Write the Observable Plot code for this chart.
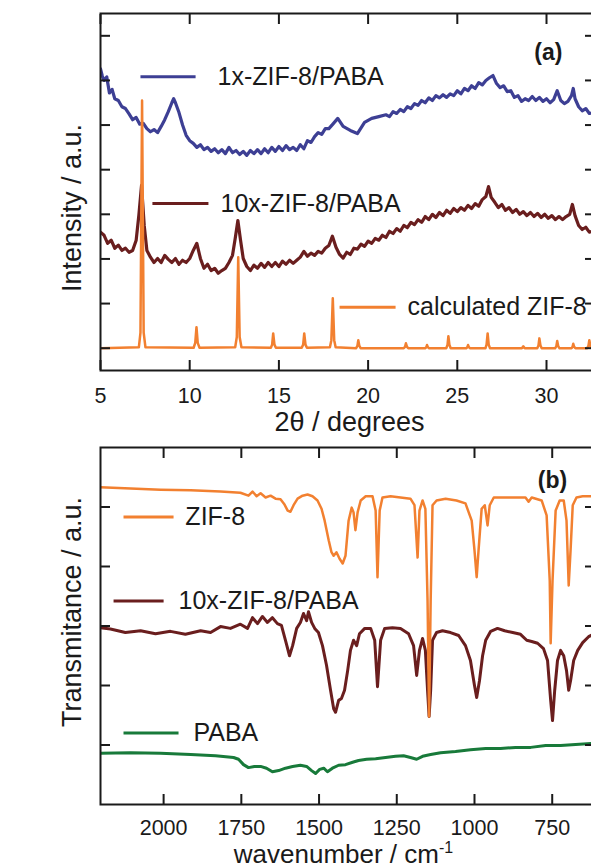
<!DOCTYPE html>
<html>
<head>
<meta charset="utf-8">
<script src="https://cdn.jsdelivr.net/npm/d3@7"></script>
<script src="https://cdn.jsdelivr.net/npm/@observablehq/plot@0.6"></script>
<style>
html, body { margin: 0; padding: 0; overflow: hidden; background: #fff; width: 591px; height: 868px; }
#chart { width: 591px; height: 868px; overflow: hidden; position: relative; }
#chart svg { display: block; max-width: none !important; }
</style>
</head>
<body>
<div id="chart"></div>
<script>
// ---------------- DATA ----------------
// Panel (a): XRD, [2θ (degrees), intensity (a.u., offset)]
const xrd1x = [
  [5.0,6.26],[5.1,6.10],[5.2,6.00],[5.35,6.08],[5.5,5.72],[5.65,5.80],[5.8,5.59],[6.0,5.55],[6.2,5.41],[6.4,5.37],
  [6.6,5.25],[6.8,5.12],[7.0,5.17],[7.2,5.02],[7.4,5.04],[7.6,4.92],[7.8,4.85],[8.0,4.90],[8.2,4.83],[8.4,4.97],
  [8.6,5.12],[8.8,5.30],[9.0,5.50],[9.1,5.59],[9.2,5.50],[9.4,5.28],[9.6,5.00],[9.8,4.77],[10.0,4.65],[10.2,4.59],
  [10.4,4.50],[10.6,4.56],[10.8,4.45],[11.0,4.50],[11.2,4.41],[11.4,4.47],[11.6,4.38],[11.8,4.45],[12.0,4.36],[12.2,4.50],
  [12.4,4.38],[12.6,4.43],[12.8,4.34],[13.0,4.41],[13.2,4.32],[13.4,4.43],[13.6,4.36],[13.8,4.45],[14.0,4.36],[14.2,4.47],
  [14.4,4.38],[14.6,4.50],[14.8,4.41],[15.0,4.52],[15.2,4.43],[15.4,4.54],[15.6,4.45],[15.8,4.50],[16.0,4.43],[16.2,4.56],
  [16.4,4.47],[16.6,4.65],[16.8,4.61],[17.0,4.74],[17.2,4.83],[17.4,4.79],[17.6,4.92],[17.8,4.92],[18.0,5.01],[18.3,5.15],
  [18.6,4.97],[19.0,4.88],[19.4,4.81],[19.8,5.06],[20.2,5.15],[20.6,5.19],[21.0,5.23],[21.2,5.19],[21.4,5.30],[21.6,5.26],
  [21.8,5.35],[22.0,5.30],[22.2,5.41],[22.4,5.37],[22.6,5.48],[22.8,5.44],[23.0,5.55],[23.2,5.50],[23.4,5.61],[23.6,5.55],
  [23.8,5.66],[24.0,5.61],[24.2,5.68],[24.4,5.62],[24.6,5.70],[24.8,5.66],[25.0,5.77],[25.2,5.70],[25.4,5.82],[25.6,5.77],
  [25.8,5.88],[26.0,5.82],[26.2,5.95],[26.4,5.90],[26.6,6.00],[26.8,6.06],[27.0,6.11],[27.2,5.93],[27.4,5.84],[27.6,5.88],
  [27.8,5.75],[28.0,5.77],[28.2,5.62],[28.4,5.66],[28.6,5.53],[28.8,5.59],[29.0,5.55],[29.2,5.64],[29.4,5.55],[29.6,5.62],
  [29.8,5.53],[30.0,5.59],[30.2,5.50],[30.4,5.57],[30.6,5.77],[30.8,5.55],[31.0,5.48],[31.2,5.53],[31.4,5.66],[31.5,5.82],
  [31.6,5.59],[31.8,5.41],[32.0,5.32],[32.2,5.37],[32.4,5.26],[32.7,5.28]
];
const xrd10x = [
  [5.0,2.60],[5.2,2.53],[5.4,2.35],[5.6,2.42],[5.8,2.24],[6.0,2.31],[6.2,2.19],[6.4,2.24],[6.6,2.15],[6.8,2.19],
  [7.0,2.42],[7.15,2.98],[7.3,3.65],[7.45,2.75],[7.6,2.19],[7.8,2.04],[8.0,1.92],[8.2,2.01],[8.4,1.92],[8.6,2.08],
  [8.8,1.99],[9.0,1.92],[9.2,2.01],[9.4,1.88],[9.6,1.97],[9.8,1.92],[10.0,2.01],[10.2,2.19],[10.4,2.35],[10.6,2.01],
  [10.8,1.79],[11.0,1.88],[11.2,1.74],[11.4,1.79],[11.6,1.68],[11.8,1.74],[12.0,1.79],[12.2,1.92],[12.4,2.08],[12.55,2.46],
  [12.7,2.86],[12.85,2.42],[13.0,2.01],[13.2,1.83],[13.4,1.74],[13.6,1.86],[13.8,1.79],[14.0,1.90],[14.2,1.81],[14.4,1.92],
  [14.6,1.83],[14.8,1.92],[15.0,1.83],[15.2,1.95],[15.4,1.88],[15.6,1.97],[15.8,1.90],[16.0,1.97],[16.2,2.04],[16.4,2.17],
  [16.6,2.06],[16.8,2.13],[17.0,2.08],[17.2,2.17],[17.4,2.13],[17.6,2.24],[17.8,2.30],[18.0,2.51],[18.2,2.26],[18.4,2.10],
  [18.6,2.02],[18.8,2.15],[19.0,2.10],[19.2,2.24],[19.4,2.22],[19.6,2.33],[19.8,2.28],[20.0,2.40],[20.2,2.35],[20.4,2.46],
  [20.6,2.42],[20.8,2.53],[21.0,2.48],[21.2,2.62],[21.4,2.57],[21.6,2.68],[21.8,2.62],[22.0,2.75],[22.2,2.70],[22.4,2.82],
  [22.6,2.77],[22.8,2.88],[23.0,2.82],[23.2,2.95],[23.4,2.88],[23.6,3.00],[23.8,2.93],[24.0,3.04],[24.2,2.97],[24.4,3.09],
  [24.6,3.02],[24.8,3.13],[25.0,3.06],[25.2,3.15],[25.4,3.09],[25.6,3.20],[25.8,3.13],[26.0,3.24],[26.2,3.18],[26.4,3.33],
  [26.6,3.40],[26.75,3.62],[26.9,3.38],[27.1,3.27],[27.3,3.15],[27.5,3.22],[27.7,3.09],[27.9,3.15],[28.1,3.04],[28.3,3.11],
  [28.5,3.00],[28.7,3.06],[28.9,2.97],[29.1,3.04],[29.3,2.95],[29.5,3.02],[29.7,2.93],[29.9,3.00],[30.1,2.91],[30.3,2.97],
  [30.5,2.88],[30.7,2.95],[30.9,2.88],[31.1,2.95],[31.3,3.00],[31.45,3.22],[31.6,2.97],[31.8,2.75],[32.0,2.66],[32.2,2.71],
  [32.4,2.60],[32.7,2.64]
];
const xrdCalc = [
  [5.0,0],[7.15,0.02],[7.24,0.35],[7.33,5.55],[7.42,0.35],[7.52,0.02],
  [10.22,0.01],[10.31,0.12],[10.38,0.47],[10.45,0.12],[10.55,0.01],
  [12.55,0.02],[12.64,0.25],[12.72,2.04],[12.8,0.25],[12.9,0.02],
  [14.55,0.01],[14.62,0.08],[14.68,0.33],[14.75,0.08],[14.83,0.01],
  [16.28,0.01],[16.36,0.08],[16.42,0.33],[16.49,0.08],[16.57,0.01],
  [17.86,0.02],[17.94,0.18],[18.02,1.12],[18.1,0.18],[18.18,0.02],
  [19.33,0],[19.4,0.05],[19.45,0.18],[19.51,0.05],[19.58,0],
  [22.0,0],[22.07,0.03],[22.12,0.11],[22.18,0.03],[22.25,0],
  [23.2,0],[23.26,0.02],[23.3,0.07],[23.35,0.02],[23.42,0],
  [24.38,0],[24.45,0.07],[24.5,0.27],[24.56,0.07],[24.63,0],
  [25.5,0],[25.56,0.02],[25.6,0.07],[25.65,0.02],[25.72,0],
  [26.58,0],[26.64,0.08],[26.7,0.33],[26.76,0.08],[26.83,0],
  [28.62,0],[28.7,0.04],[28.78,0],
  [29.48,0],[29.55,0.06],[29.6,0.22],[29.66,0.06],[29.73,0],
  [30.48,0],[30.55,0.04],[30.6,0.16],[30.66,0.04],[30.73,0],
  [31.4,0],[31.46,0.03],[31.5,0.1],[31.55,0.03],[31.62,0],
  [32.28,0],[32.35,0.05],[32.4,0.18],[32.46,0.05],[32.53,0],[32.7,0]
];

// Panel (b): FTIR, [wavenumber (cm-1), transmittance (a.u., offset)]
const irZif8 = [
  [2203,5.33],[2106,5.31],[2010,5.29],[1913,5.28],[1817,5.26],[1753,5.24],[1727,5.19],[1714,5.26],[1701,5.18],[1688,5.23],
  [1672,5.16],[1656,5.19],[1640,5.14],[1624,5.13],[1611,5.04],[1601,4.94],[1592,4.92],[1582,5.03],[1569,5.14],[1553,5.19],
  [1537,5.21],[1521,5.18],[1505,5.11],[1492,4.97],[1482,4.77],[1469,4.44],[1460,4.24],[1453,4.18],[1444,4.24],[1434,4.13],
  [1424,4.05],[1415,4.18],[1405,4.77],[1395,4.99],[1389,4.91],[1383,4.61],[1376,4.91],[1366,5.11],[1350,5.18],[1328,5.18],
  [1318,4.94],[1312,3.82],[1305,4.94],[1296,5.16],[1270,5.18],[1238,5.16],[1206,5.14],[1193,5.03],[1183,4.15],[1177,4.94],
  [1167,5.11],[1158,4.97],[1151,3.43],[1146,1.48],[1141,3.43],[1135,5.03],[1122,5.11],[1093,5.14],[1058,5.11],[1029,5.06],
  [1009,4.77],[1000,4.27],[993,3.82],[987,4.27],[977,4.97],[967,5.03],[958,4.69],[951,5.03],[938,5.16],[884,5.16],
  [836,5.16],[826,5.09],[816,5.16],[784,5.11],[768,4.86],[758,3.76],[755,2.71],[749,3.76],[739,4.94],[726,5.11],
  [713,5.11],[704,4.77],[697,3.68],[691,4.27],[684,5.03],[672,5.16],[652,5.18],[614,5.18]
];
const ir10x = [
  [2203,2.97],[2171,2.95],[2123,2.89],[2074,2.92],[2026,2.87],[1978,2.91],[1930,2.86],[1881,2.92],[1849,2.89],[1817,2.99],
  [1785,2.96],[1753,3.03],[1730,2.96],[1714,3.14],[1698,3.04],[1682,3.16],[1666,3.06],[1650,3.14],[1634,3.04],[1621,3.01],
  [1608,2.76],[1595,2.50],[1585,2.67],[1572,2.96],[1560,3.06],[1550,3.21],[1540,3.09],[1534,3.24],[1524,3.06],[1514,2.96],
  [1502,2.89],[1489,2.67],[1476,2.34],[1463,1.92],[1453,1.61],[1447,1.55],[1437,1.75],[1428,1.78],[1418,1.92],[1408,2.25],
  [1399,2.59],[1389,2.76],[1379,2.67],[1370,2.87],[1353,2.96],[1334,2.96],[1321,2.76],[1312,1.98],[1302,2.76],[1289,2.96],
  [1264,2.97],[1238,2.96],[1212,2.87],[1196,2.67],[1186,2.17],[1177,2.59],[1167,2.79],[1158,2.59],[1151,1.92],[1146,1.48],
  [1141,1.92],[1135,2.76],[1122,2.89],[1103,2.92],[1077,2.89],[1051,2.84],[1029,2.67],[1013,2.42],[1000,2.00],[993,1.80],
  [984,2.08],[974,2.50],[964,2.76],[948,2.91],[926,2.96],[903,2.92],[877,2.89],[852,2.86],[832,2.76],[816,2.74],
  [797,2.71],[778,2.62],[765,2.42],[755,1.75],[749,1.41],[742,1.92],[733,2.42],[723,2.59],[713,2.50],[704,2.25],
  [697,1.92],[691,2.08],[681,2.42],[668,2.59],[652,2.72],[633,2.82],[614,2.87]
];
const irPaba = [
  [2203,0.86],[2106,0.87],[2010,0.86],[1913,0.84],[1833,0.82],[1775,0.79],[1759,0.76],[1743,0.67],[1727,0.62],[1708,0.64],
  [1688,0.64],[1669,0.61],[1650,0.55],[1630,0.57],[1608,0.61],[1585,0.64],[1560,0.66],[1540,0.64],[1524,0.57],[1511,0.52],
  [1498,0.59],[1485,0.61],[1473,0.55],[1457,0.61],[1437,0.66],[1415,0.67],[1392,0.71],[1373,0.74],[1347,0.76],[1318,0.77],
  [1286,0.79],[1254,0.81],[1228,0.82],[1206,0.79],[1186,0.76],[1167,0.81],[1141,0.84],[1109,0.87],[1061,0.89],[1013,0.92],
  [964,0.94],[916,0.94],[868,0.96],[819,0.96],[771,0.99],[723,0.99],[675,1.01],[614,1.03]
];

// Tick values
const xTicksA = [5, 10, 15, 20, 25, 30];
const yTicksA = [0, 1, 2, 3, 4, 5, 6, 7];
const xTicksB = [2000, 1750, 1500, 1250, 1000, 750];
const yTicksB = [1, 2, 3, 4, 5];

// Labels
const seriesLabelsA = ["1x-ZIF-8/PABA", "10x-ZIF-8/PABA", "calculated ZIF-8"];
const seriesLabelsB = ["ZIF-8", "10x-ZIF-8/PABA", "PABA"];
const panelTagA = "(a)";
const panelTagB = "(b)";
const xTitleA = "2θ / degrees";
const yTitleA = "Intensity / a.u.";
const xTitleB = "wavenumber / cm";
const xTitleBSup = "-1";
const yTitleB = "Transmitance / a.u.";

// ---------------- STYLE / LAYOUT ----------------
const FONT = "'Liberation Sans', Arial, Helvetica, sans-serif";
const INK = "#1a1a1a";
const BLUE = "#3d3f94", MAROON = "#6a1e1e", ORANGE = "#f28030", GREEN = "#187a3a";

// legend placement (in data units of each panel)
const legendA = [
  {label: seriesLabelsA[0], color: BLUE,   x1: 7.24,  x2: 10.33, tx: 11.56, y: 6.085},
  {label: seriesLabelsA[1], color: MAROON, x1: 7.91,  x2: 11.05, tx: 11.73, y: 3.24},
  {label: seriesLabelsA[2], color: ORANGE, x1: 18.40, x2: 21.54, tx: 22.21, y: 0.917}
];
const legendB = [
  {label: seriesLabelsB[0], color: ORANGE, x1: 2129, x2: 1968, tx: 1930, y: 4.83},
  {label: seriesLabelsB[1], color: MAROON, x1: 2161, x2: 2000, tx: 1952, y: 3.42},
  {label: seriesLabelsB[2], color: GREEN,  x1: 2129, x2: 1952, tx: 1904, y: 1.20}
];

const px = d => d[0], py = d => d[1];

function frameAxes(xTicks, yTicks, padding) {
  return [
    Plot.frame({stroke: INK, strokeWidth: 2}),
    Plot.axisX({ticks: xTicks, anchor: "bottom", tickSize: 0, tickPadding: padding, fontSize: 21.5, label: null, tickFormat: d => String(d)}),
    Plot.axisX({ticks: xTicks, anchor: "bottom", tickSize: -10, strokeWidth: 2, label: null, tickFormat: () => ""}),
    Plot.axisX({ticks: xTicks, anchor: "top", tickSize: -10, strokeWidth: 2, label: null, tickFormat: () => ""}),
    Plot.axisY({ticks: yTicks, anchor: "left", tickSize: -10, strokeWidth: 2, label: null, tickFormat: () => ""}),
    Plot.axisY({ticks: yTicks, anchor: "right", tickSize: -10, strokeWidth: 2, label: null, tickFormat: () => ""})
  ];
}

function legendMarks(items) {
  return [
    Plot.link(items, {x1: "x1", x2: "x2", y1: "y", y2: "y", stroke: "color", strokeWidth: 3}),
    Plot.text(items, {x: "tx", y: "y", text: "label", textAnchor: "start", fontSize: 25, fill: INK})
  ];
}

const svgStyle = {fontFamily: FONT, color: INK, background: "transparent", maxWidth: "none"};

const chartA = Plot.plot({
  width: 600, height: 443,
  marginTop: 13, marginRight: 6, marginBottom: 73, marginLeft: 100,
  style: svgStyle,
  x: {domain: [5, 32.69], label: null},
  y: {domain: [-0.5, 7.5], label: null},
  color: {type: "identity"},
  marks: [
    Plot.line(xrd1x, {x: px, y: py, stroke: BLUE, strokeWidth: 3.2, clip: true}),
    Plot.line(xrd10x, {x: px, y: py, stroke: MAROON, strokeWidth: 3.2, clip: true}),
    Plot.line(xrdCalc, {x: px, y: py, stroke: ORANGE, strokeWidth: 2.5, strokeLinejoin: "round", clip: true}),
    ...legendMarks(legendA),
    Plot.text([panelTagA], {x: 30.1, y: 6.62, fontWeight: "bold", fontSize: 23, fill: INK}),
    ...frameAxes(xTicksA, yTicksA, 17),
    Plot.text([xTitleA], {frameAnchor: "bottom", lineAnchor: "bottom", textAnchor: "middle", dx: 2, dy: 60, fontSize: 27, fill: INK}),
    Plot.text([yTitleA], {frameAnchor: "left", textAnchor: "middle", rotate: -90, dx: -28, dy: 16, fontSize: 27, fill: INK})
  ]
});

const chartB = Plot.plot({
  width: 600, height: 425,
  marginTop: 4, marginRight: 6, marginBottom: 64, marginLeft: 100,
  style: svgStyle,
  x: {domain: [2203, 614], label: null},
  y: {domain: [0, 6], label: null},
  color: {type: "identity"},
  marks: [
    Plot.line(irPaba, {x: px, y: py, stroke: GREEN, strokeWidth: 3, clip: true}),
    Plot.line(ir10x, {x: px, y: py, stroke: MAROON, strokeWidth: 3, strokeLinejoin: "round", clip: true}),
    Plot.line(irZif8, {x: px, y: py, stroke: ORANGE, strokeWidth: 2.5, strokeLinejoin: "round", clip: true}),
    ...legendMarks(legendB),
    Plot.text([panelTagB], {x: 749, y: 5.45, fontWeight: "bold", fontSize: 23, fill: INK}),
    ...frameAxes(xTicksB, yTicksB, 15),
    Plot.text([xTitleB], {frameAnchor: "bottom", lineAnchor: "bottom", textAnchor: "middle", dx: -4, dy: 58, fontSize: 26, fill: INK}),
    Plot.text([yTitleB], {frameAnchor: "left", textAnchor: "middle", rotate: -90, dx: -28, dy: -14, fontSize: 27, fill: INK})
  ]
});

// superscript on the wavenumber unit
d3.select(chartB).selectAll("text")
  .filter(function () { return this.textContent === xTitleB; })
  .append("tspan").attr("dy", -10).attr("font-size", 16).text(xTitleBSup);

const root = document.getElementById("chart");
root.appendChild(chartA);
root.appendChild(chartB);
</script>
</body>
</html>
